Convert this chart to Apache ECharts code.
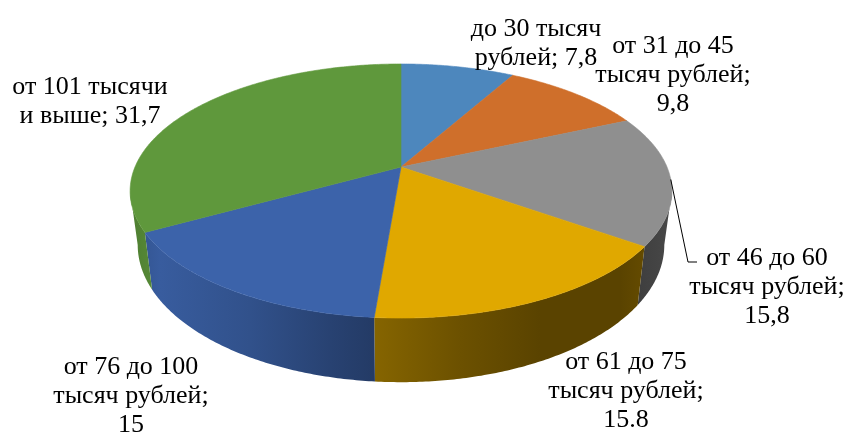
<!DOCTYPE html>
<html>
<head>
<meta charset="utf-8">
<script src="https://cdn.jsdelivr.net/npm/echarts@6/dist/echarts.min.js"></script>
<style>
  html, body { margin: 0; padding: 0; background: #ffffff; }
  #chart { width: 847px; height: 436px; }
</style>
</head>
<body>
<div id="chart"></div>
<script>
// Income groups and their shares
const categories = [
  'до 30 тысяч рублей',
  'от 31 до 45 тысяч рублей',
  'от 46 до 60 тысяч рублей',
  'от 61 до 75 тысяч рублей',
  'от 76 до 100 тысяч рублей',
  'от 101 тысячи и выше'
];
const values = [7.8, 9.8, 15.8, 15.8, 15, 31.7];
const labelTexts = [
  'до 30 тысяч\nрублей; 7,8',
  'от 31 до 45\nтысяч рублей;\n9,8',
  'от 46 до 60\nтысяч рублей;\n15,8',
  'от 61 до 75\nтысяч рублей;\n15.8',
  'от 76 до 100\nтысяч рублей;\n15',
  'от 101 тысячи\nи выше; 31,7'
];

// ---- styling / layout ----
const colors = ['#4d87bd', '#cf6f2b', '#8f8f8f', '#e0a800', '#3c63aa', '#5f983c'];
const labelFont = '26px "Liberation Serif"';
// label block centres (px)
const labelPos = [[536, 44], [673, 75], [767, 287], [626, 391], [131, 396], [90, 102]];
// leader line for the third label: elbow and end point
const leader = { index: 2, elbow: [688, 262], end: [697, 262] };

// perspective view of a flat disc: centre, radii, perspective factor, thickness
const V = { cx: 401, cy: 167, A: 266, B: 122.5, p: 0.189, H: 52, s: 0.972 };

function project(theta, bottom) {
  const u = Math.sin(theta), v = -Math.cos(theta);
  const w = 1 - V.p * v;
  let x = V.cx + V.A * u / w;
  let y = V.cy + V.B * v / w;
  if (bottom) {
    x = V.cx + (x - V.cx) * V.s;
    y += V.H / w;
  }
  return [x, y];
}

const TAU = Math.PI * 2;
const total = values.reduce((a, b) => a + b, 0);
const starts = [];
values.reduce((acc, v, i) => { starts[i] = acc / total * TAU; return acc + v; }, 0);

// visible part of the side wall (front half)
const wallFrom = Math.acos(-V.p);
const wallTo = TAU - Math.acos(-V.p);

function shade(hex, f) {
  const n = parseInt(hex.slice(1), 16);
  const r = Math.round(((n >> 16) & 255) * f);
  const g = Math.round(((n >> 8) & 255) * f);
  const b = Math.round((n & 255) * f);
  return 'rgb(' + r + ',' + g + ',' + b + ')';
}
// horizontal lighting across the wall
const wallLight = [[129, 0.82], [160, 0.93], [250, 0.82], [330, 0.67], [373, 0.60], [460, 0.48], [540, 0.40], [620, 0.40], [671, 0.50]];
function wallFill(hex) {
  const x0 = wallLight[0][0], x1 = wallLight[wallLight.length - 1][0];
  const stops = wallLight.map(([x, f]) => ({ offset: (x - x0) / (x1 - x0), color: shade(hex, f) }));
  return new echarts.graphic.LinearGradient(x0, 0, x1, 0, stops, true);
}

function arcPoints(a0, a1, bottom) {
  const n = Math.max(6, Math.ceil(Math.abs(a1 - a0) / 0.01));
  const pts = [];
  for (let k = 0; k <= n; k++) pts.push(project(a0 + (a1 - a0) * k / n, bottom));
  return pts;
}

function sliceAngles(i, api) {
  const a0 = starts[i];
  return [a0, a0 + api.value(0) / total * TAU];
}

const seriesData = values.map((v, i) => ({ name: categories[i], value: v }));

const option = {
  animation: false,
  backgroundColor: '#ffffff',
  series: [
    {
      // side walls
      type: 'custom',
      coordinateSystem: 'none',
      silent: true,
      z: 1,
      data: seriesData,
      renderItem: function (params, api) {
        const i = params.dataIndex;
        const [a0, a1] = sliceAngles(i, api);
        const b0 = Math.max(a0, wallFrom), b1 = Math.min(a1, wallTo);
        if (b1 <= b0) return { type: 'group', children: [] };
        const top = arcPoints(b0, b1, false);
        const bot = arcPoints(b0, b1, true).reverse();
        return {
          type: 'polygon',
          shape: { points: top.concat(bot) },
          style: { fill: wallFill(colors[i]), stroke: null }
        };
      }
    },
    {
      // top faces, labels
      type: 'custom',
      coordinateSystem: 'none',
      silent: true,
      z: 2,
      data: seriesData,
      renderItem: function (params, api) {
        const i = params.dataIndex;
        const [a0, a1] = sliceAngles(i, api);
        const pts = [[V.cx, V.cy]].concat(arcPoints(a0, a1, false));
        const children = [{
          type: 'polygon',
          shape: { points: pts },
          style: { fill: colors[i], stroke: colors[i], lineWidth: 0.6 }
        }, {
          type: 'text',
          z2: 20,
          x: labelPos[i][0],
          y: labelPos[i][1],
          style: {
            text: labelTexts[i],
            align: 'center',
            verticalAlign: 'middle',
            font: labelFont,
            lineHeight: 29,
            fill: '#000000'
          }
        }];
        if (i === leader.index) {
          const start = project((a0 + a1) / 2, false);
          children.push({
            type: 'polyline',
            z2: 20,
            shape: { points: [start, leader.elbow, leader.end] },
            style: { stroke: '#000000', lineWidth: 1, fill: null }
          });
        }
        return { type: 'group', children: children };
      }
    }
  ]
};

const chart = echarts.init(document.getElementById('chart'), null, { renderer: 'canvas' });
chart.setOption(option);
</script>
</body>
</html>
